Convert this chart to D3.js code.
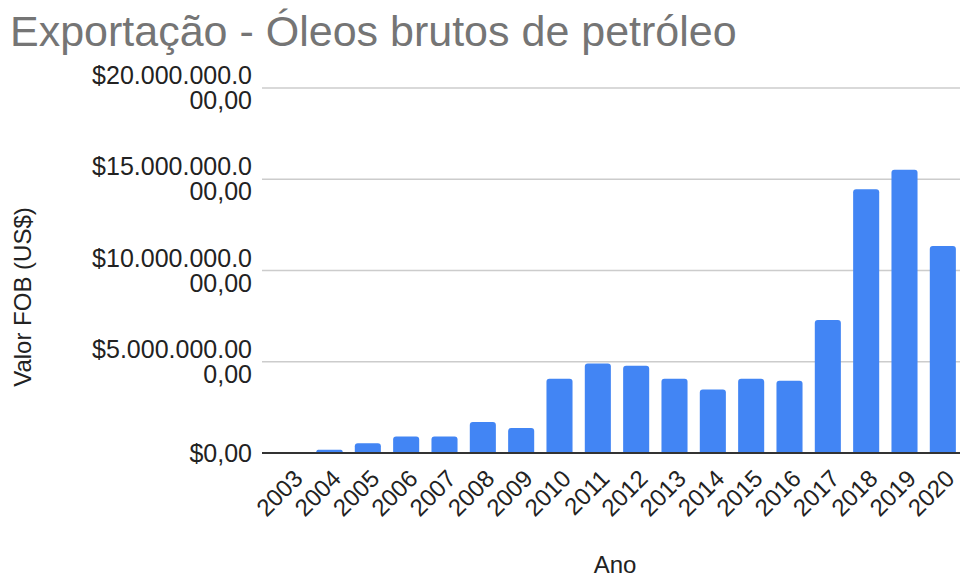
<!DOCTYPE html>
<html>
<head>
<meta charset="utf-8">
<script src="https://cdn.jsdelivr.net/npm/d3@7"></script>
<style>
  body { margin: 0; background: #fff; }
  svg { display: block; font-family: "Liberation Sans", Arial, sans-serif; }
</style>
</head>
<body>
<svg id="chart" width="960" height="577"></svg>
<script>
// data (US$ FOB, in billions)
const years = ["2003","2004","2005","2006","2007","2008","2009","2010","2011","2012",
               "2013","2014","2015","2016","2017","2018","2019","2020"];
const values = [0.01, 0.18, 0.53, 0.9, 0.9, 1.7, 1.37, 4.07, 4.91, 4.78,
                4.07, 3.48, 4.07, 3.96, 7.29, 14.45, 15.52, 11.34];
const yTicks = [0, 5, 10, 15, 20];
const yTickLabels = [["$0,00"], ["$5.000.000.00", "0,00"], ["$10.000.000.0", "00,00"],
                     ["$15.000.000.0", "00,00"], ["$20.000.000.0", "00,00"]];

const svg = d3.select("#chart");
const plotLeft = 268, plotRight = 960, plotTop = 88, plotBottom = 453;

const x = d3.scaleBand()
  .domain(years)
  .range([272, 962])
  .paddingInner(0.32)
  .paddingOuter(0.16);

const y = d3.scaleLinear()
  .domain([0, 20])
  .range([plotBottom, plotTop]);

// title
svg.append("text")
  .attr("x", 10)
  .attr("y", 46)
  .attr("font-size", 43)
  .attr("fill", "#757575")
  .text("Exportação - Óleos brutos de petróleo");

// gridlines
svg.append("g").selectAll("line")
  .data(yTicks.filter(d => d > 0))
  .enter().append("line")
  .attr("x1", plotLeft - 6).attr("x2", plotRight)
  .attr("y1", d => y(d)).attr("y2", d => y(d))
  .attr("stroke", "#cccccc")
  .attr("stroke-width", 1.5);

// y labels
const yl = svg.append("g").selectAll("text")
  .data(yTicks)
  .enter().append("text")
  .attr("text-anchor", "end")
  .attr("font-size", 25)
  .attr("fill", "#222");
yl.each(function (d, i) {
  const lines = yTickLabels[i];
  const y0 = y(d) + 8.5 - (lines.length - 1) * 25 / 2;
  d3.select(this).selectAll("tspan")
    .data(lines)
    .enter().append("tspan")
    .attr("x", 252)
    .attr("y", (l, j) => y0 + j * 25)
    .text(l => l);
});

// bars, rounded top corners
const r = 3;
svg.append("g").selectAll("path")
  .data(years.map((yr, i) => ({ yr, v: values[i] })))
  .enter().append("path")
  .attr("fill", "#4285f4")
  .attr("d", d => {
    const x0 = x(d.yr), w = x.bandwidth(), y0 = y(d.v), h = plotBottom - y0;
    const rr = Math.min(r, h / 2);
    return `M${x0},${plotBottom}V${y0 + rr}Q${x0},${y0} ${x0 + rr},${y0}H${x0 + w - rr}Q${x0 + w},${y0} ${x0 + w},${y0 + rr}V${plotBottom}Z`;
  });

// baseline
svg.append("line")
  .attr("x1", plotLeft - 6).attr("x2", plotRight)
  .attr("y1", plotBottom).attr("y2", plotBottom)
  .attr("stroke", "#333")
  .attr("stroke-width", 2);

// x labels
svg.append("g").selectAll("text")
  .data(years)
  .enter().append("text")
  .attr("transform", d => `translate(${x(d) + x.bandwidth() / 2 + 13},480) rotate(-45)`)
  .attr("text-anchor", "end")
  .attr("font-size", 24)
  .attr("fill", "#222")
  .text(d => d);

// axis titles
svg.append("text")
  .attr("x", 615).attr("y", 573)
  .attr("text-anchor", "middle")
  .attr("font-size", 24)
  .attr("fill", "#222")
  .text("Ano");

svg.append("text")
  .attr("transform", "translate(31,297) rotate(-90)")
  .attr("text-anchor", "middle")
  .attr("font-size", 24)
  .attr("fill", "#222")
  .text("Valor FOB (US$)");
</script>
</body>
</html>
